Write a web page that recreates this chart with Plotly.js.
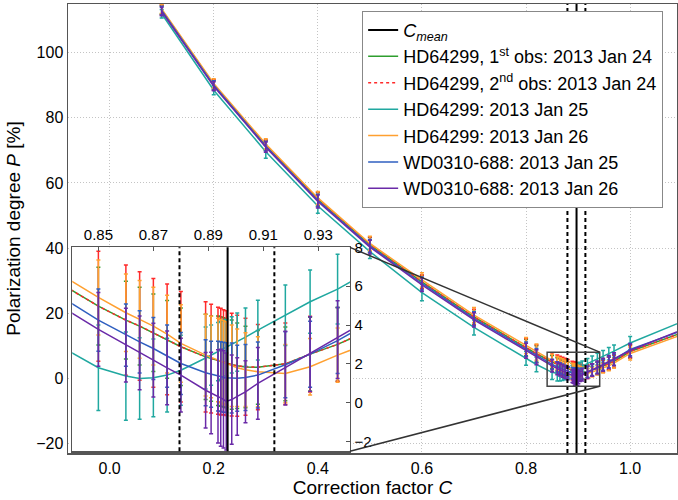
<!DOCTYPE html>
<html><head><meta charset="utf-8">
<script src="https://cdn.plot.ly/plotly-3.0.1.min.js"></script>
<style>html,body{margin:0;padding:0;background:#fff}#chart{width:678px;height:500px}</style>
</head><body><div id="chart"></div>
<script>
// ---- data ----
const corrC = [0.1,0.2,0.3,0.4,0.5,0.6,0.7,0.8,0.82,
  0.85,0.86,0.865,0.87,0.875,0.88,
  0.889,0.891,0.8935,0.8945,0.8955,0.8965,0.8985,0.9005,0.9035,0.908,
  0.918,0.927,0.937,0.948,0.959,0.969,
  1.0,1.1];

const pGreen = [113.2,90.2,71.6,55.0,41.0,29.6,18.8,9.4,7.5,
  4.97,4.25,3.94,3.6,3.26,2.88,
  2.36,2.27,2.16,2.12,2.08,2.04,1.96,1.9,1.84,1.82,
  2.0,2.5,3.0,3.7,4.5,5.2,
  8.2,14.0];
const errGreen = [1.3,1.4,1.5,2.0,2.2,2.0,2.2,2.5,2.5,
  2.0,2.0,2.0,2.0,2.0,2.0,
  2.2,2.2,2.3,2.3,2.3,2.3,2.3,2.2,2.1,1.9,
  1.9,1.9,1.9,1.9,1.9,1.9,
  2.0,2.0];

const pRed = [113.2,90.2,71.6,55.0,41.0,29.6,18.8,9.4,7.5,
  4.97,4.25,3.95,3.6,3.26,2.88,
  2.36,2.27,2.16,2.12,2.08,2.04,1.96,1.9,1.85,1.83,
  2.0,2.5,3.0,3.7,4.5,5.2,
  8.2,14.0];
const errRed = [1.5,1.6,1.6,2.2,2.4,2.1,2.4,2.8,2.8,
  2.83,2.84,2.8,2.8,2.85,2.85,
  2.84,2.8,2.75,2.75,2.7,2.7,2.65,2.6,2.5,2.2,
  2.1,1.95,1.9,1.9,1.9,1.9,
  2.0,2.0];

const pTeal = [112.0,88.5,69.6,52.9,38.9,26.3,15.6,6.1,4.2,
  1.8,1.37,1.25,1.28,1.42,1.67,
  2.3,2.45,2.63,2.7,2.77,2.84,2.98,3.12,3.38,3.74,
  4.5,5.2,5.85,6.7,7.5,8.3,
  10.8,17.4];
const errTeal = [1.3,1.4,2.0,2.2,2.1,2.5,2.3,2.1,2.2,
  2.2,2.27,2.1,2.0,1.9,1.8,
  1.6,1.55,1.5,1.5,1.5,1.45,1.45,1.5,1.5,1.54,
  1.56,1.63,1.8,1.8,1.9,1.9,
  2.0,2.0];

const pOrange = [113.5,90.6,72.0,55.4,41.4,30.2,19.4,10.0,8.0,
  5.42,4.63,4.29,3.94,3.53,3.05,
  2.45,2.35,2.2,2.14,2.08,2.02,1.9,1.8,1.7,1.59,
  1.5,1.85,2.45,3.05,3.8,4.6,
  7.6,13.4];
const errOrange = [1.4,1.4,1.6,2.0,2.2,2.2,2.3,2.5,2.5,
  1.93,2.0,2.0,2.0,2.0,2.0,
  2.1,2.1,2.15,2.15,2.15,2.15,2.1,2.0,1.9,1.8,
  1.5,1.45,1.4,1.5,1.5,1.5,
  2.0,2.0];

const pBlue = [113.0,90.0,71.3,54.6,40.6,29.1,18.3,8.9,6.9,
  4.25,3.48,3.13,2.79,2.4,2.02,
  1.54,1.46,1.37,1.34,1.31,1.29,1.27,1.26,1.3,1.42,
  1.95,2.5,3.2,4.1,4.9,5.7,
  8.8,14.6];
const errBlue = [1.3,1.4,1.5,1.9,2.0,2.0,2.1,2.2,2.2,
  1.6,1.6,1.6,1.6,1.6,1.6,
  1.7,1.7,1.8,1.8,1.8,1.8,1.8,1.7,1.7,1.7,
  1.7,1.7,1.7,1.7,1.7,1.7,
  1.9,1.9];

const pPurple = [112.7,89.7,71.0,54.3,40.3,28.7,17.9,8.4,6.4,
  3.77,2.96,2.57,2.19,1.79,1.42,
  0.64,0.5,0.32,0.25,0.17,0.06,0.16,0.32,0.56,0.99,
  1.78,2.5,3.25,4.1,5.0,5.8,
  8.5,14.9];
const errPurple = [1.3,1.4,1.6,2.0,2.1,2.1,2.2,2.3,2.3,
  1.9,1.9,1.9,1.9,1.9,1.9,
  1.95,2.1,2.4,2.5,2.5,2.5,2.3,2.0,1.6,1.85,
  1.9,1.93,2.0,2.0,2.0,2.0,
  2.0,2.0];

const seriesNames = [
  'HD64299, 1<sup>st</sup> obs: 2013 Jan 24',
  'HD64299, 2<sup>nd</sup> obs: 2013 Jan 24',
  'HD64299: 2013 Jan 25',
  'HD64299: 2013 Jan 26',
  'WD0310-688: 2013 Jan 25',
  'WD0310-688: 2013 Jan 26'
];
const cMeanName = '<i>C</i><sub><i>mean</i></sub>';
const cMean = 0.897, cLow = 0.8795, cHigh = 0.914;

const mainXTicks = [0.0,0.2,0.4,0.6,0.8,1.0];
const mainYTicks = [-20,0,20,40,60,80,100];
const insetXTicks = [0.85,0.87,0.89,0.91,0.93];
const insetYTicks = [-2,0,2,4,6,8];

// ---- styling ----
const xRange = [-0.08, 1.09], yRange = [-23, 115];
const insetX = [0.8405, 0.9415], insetY = [-2.5, 8];
const insetDomX = [0.007, 0.463], insetDomY = [0.004, 0.458];
const FONT = 'Liberation Sans, Arial, sans-serif';

const series = [
  {y: pGreen,  e: errGreen,  color: '#2e9e2e', dash: 'solid'},
  {y: pRed,    e: errRed,    color: '#ff2a2a', dash: 'dot'},
  {y: pTeal,   e: errTeal,   color: '#20a8a0', dash: 'solid'},
  {y: pOrange, e: errOrange, color: '#ffa030', dash: 'solid'},
  {y: pBlue,   e: errBlue,   color: '#2f5fc0', dash: 'solid'},
  {y: pPurple, e: errPurple, color: '#6a2aa8', dash: 'solid'}
];

const traces = [];
series.forEach((s, i) => {
  traces.push({
    x: corrC, y: s.y, mode: 'lines', type: 'scatter',
    line: {color: s.color, width: 1.5, dash: s.dash},
    error_y: {type: 'data', array: s.e, visible: true, color: s.color, thickness: 1.5, width: 2},
    name: seriesNames[i], legendgroup: 'g' + i, hoverinfo: 'skip',
    xaxis: 'x', yaxis: 'y'
  });
});
series.forEach((s, i) => {
  traces.push({
    x: corrC, y: s.y, mode: 'lines', type: 'scatter',
    line: {color: s.color, width: 1.5, dash: s.dash},
    error_y: {type: 'data', array: s.e, visible: true, color: s.color, thickness: 1.5, width: 2},
    name: seriesNames[i], legendgroup: 'g' + i, showlegend: false,
    xaxis: 'x2', yaxis: 'y2', hoverinfo: 'skip'
  });
});
traces.push({
  x: [cMean, cMean], y: yRange, mode: 'lines', type: 'scatter',
  line: {color: 'black', width: 2}, name: cMeanName, legendrank: 1,
  xaxis: 'x', yaxis: 'y', hoverinfo: 'skip'
});

const dx = xRange[1] - xRange[0], dy = yRange[1] - yRange[0];
const cornerX = xRange[0] + insetDomX[1] * dx;
const cornerTop = yRange[0] + insetDomY[1] * dy;
const cornerBot = yRange[0] + insetDomY[0] * dy;
const DASH = '4px,3px';
const shapes = [
  {type: 'line', xref: 'x', yref: 'y domain', x0: cLow, x1: cLow, y0: 0, y1: 1, line: {color: 'black', width: 2, dash: DASH}},
  {type: 'line', xref: 'x', yref: 'y domain', x0: cHigh, x1: cHigh, y0: 0, y1: 1, line: {color: 'black', width: 2, dash: DASH}},
  {type: 'rect', xref: 'x', yref: 'y', x0: insetX[0], x1: insetX[1], y0: insetY[0], y1: insetY[1], line: {color: '#444', width: 1.5}},
  {type: 'line', xref: 'x', yref: 'y', x0: cornerX, y0: cornerTop, x1: insetX[1], y1: insetY[1], line: {color: '#333', width: 1.5}},
  {type: 'line', xref: 'x', yref: 'y', x0: cornerX, y0: cornerBot, x1: insetX[1], y1: insetY[0], line: {color: '#333', width: 1.5}},
  {type: 'line', xref: 'x2', yref: 'y2 domain', x0: cLow, x1: cLow, y0: 0, y1: 1, line: {color: 'black', width: 2, dash: DASH}},
  {type: 'line', xref: 'x2', yref: 'y2 domain', x0: cHigh, x1: cHigh, y0: 0, y1: 1, line: {color: 'black', width: 2, dash: DASH}},
  {type: 'line', xref: 'x2', yref: 'y2 domain', x0: cMean, x1: cMean, y0: 0, y1: 1, line: {color: 'black', width: 2}}
];

const axisCommon = {
  showline: true, mirror: true, linecolor: '#555', linewidth: 1.5,
  zeroline: false, color: '#000'
};
const GRID = {showgrid: true, gridcolor: '#c4c4c4', griddash: '1px,2px', gridwidth: 1};

const layout = {
  width: 678, height: 500,
  margin: {l: 68, r: 1, t: 4, b: 47},
  paper_bgcolor: 'white', plot_bgcolor: 'white',
  font: {family: FONT, color: '#000', size: 16},
  showlegend: true,
  legend: {
    x: 0.483, y: 0.985, xanchor: 'left', yanchor: 'top',
    bgcolor: 'white', bordercolor: '#888', borderwidth: 1,
    font: {family: FONT, size: 18, color: '#000'}, tracegroupgap: 0
  },
  xaxis: Object.assign({}, axisCommon, GRID, {
    domain: [0, 1], anchor: 'y', range: xRange,
    tickmode: 'array', tickvals: mainXTicks, tickformat: '.1f',
    tickfont: {size: 16},
    title: {text: 'Correction factor <i>C</i>', font: {size: 19}, standoff: 5}
  }),
  yaxis: Object.assign({}, axisCommon, GRID, {
    domain: [0, 1], anchor: 'x', range: yRange,
    tickmode: 'array', tickvals: mainYTicks,
    tickfont: {size: 16},
    title: {text: 'Polarization degree <i>P</i> [%]', font: {size: 19}, standoff: 10}
  }),
  xaxis2: Object.assign({}, axisCommon, {
    domain: insetDomX, anchor: 'y2', side: 'top', range: insetX,
    tickmode: 'array', tickvals: insetXTicks, tickformat: '.2f',
    showgrid: false, ticks: 'inside', ticklen: 4, tickcolor: '#555',
    tickfont: {size: 15}
  }),
  yaxis2: Object.assign({}, axisCommon, {
    domain: insetDomY, anchor: 'x2', side: 'right', range: insetY,
    tickmode: 'array', tickvals: insetYTicks,
    showgrid: false, ticks: 'inside', ticklen: 4, tickcolor: '#555',
    tickfont: {size: 15}
  }),
  shapes: shapes
};

Plotly.newPlot('chart', traces, layout, {displayModeBar: false, staticPlot: true});
</script></body></html>
